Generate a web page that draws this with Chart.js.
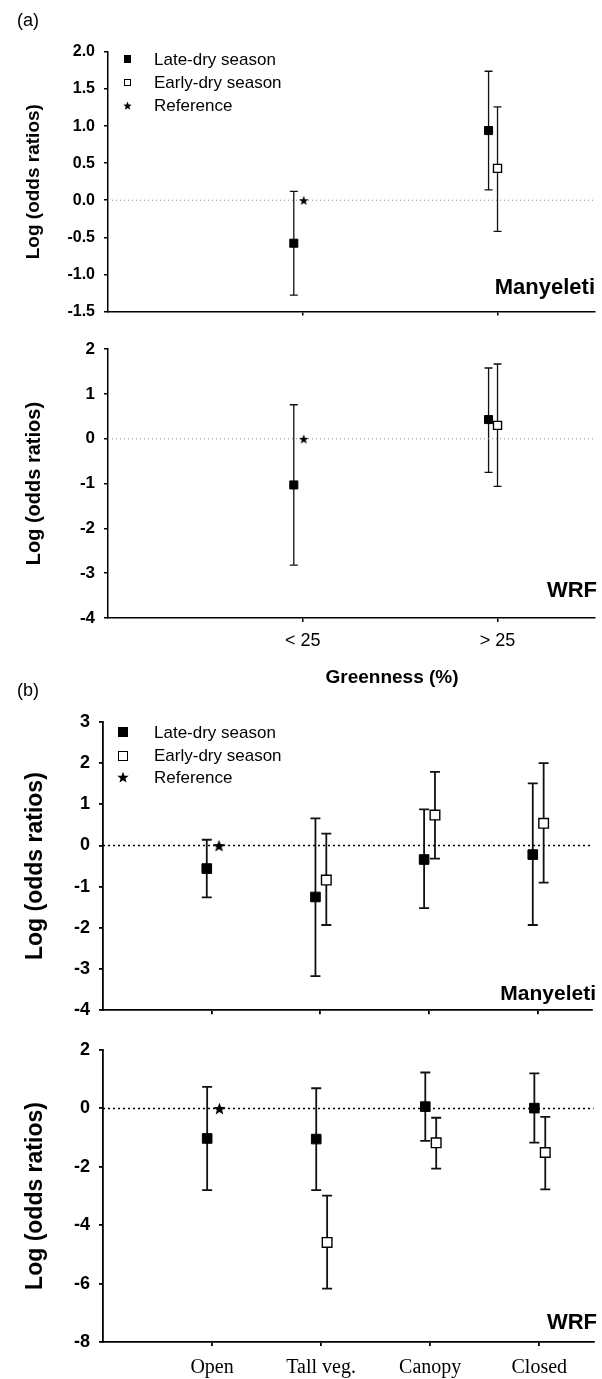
<!DOCTYPE html>
<html>
<head>
<meta charset="utf-8">
<script src="https://cdn.jsdelivr.net/npm/chart.js@4.4.1/dist/chart.umd.min.js"></script>
<style>
html,body{margin:0;padding:0;background:#fff;}
#wrap{position:relative;width:602px;height:1379px;overflow:hidden;font-family:'Liberation Sans',Arial,sans-serif;color:#000;}
canvas.chart{position:absolute;left:0;}
.t{position:absolute;white-space:nowrap;line-height:1;}
.mk{position:absolute;box-sizing:border-box;}
</style>
</head>
<body>
<div id="wrap">
<canvas id="cA1" class="chart" width="602" height="330" style="top:0px"></canvas>
<canvas id="cA2" class="chart" width="602" height="370" style="top:330px"></canvas>
<canvas id="cB1" class="chart" width="602" height="330" style="top:700px"></canvas>
<canvas id="cB2" class="chart" width="602" height="349" style="top:1030px"></canvas>
</div>
<script>
// ---------------- DATA ----------------
const greennessCategories = ['< 25', '> 25'];
const coverCategories = ['Open', 'Tall veg.', 'Canopy', 'Closed'];
const legendLabels = ['Late-dry season', 'Early-dry season', 'Reference'];
const referenceValue = 0;
const zeroLineValue = 0;

// (a) Greenness – Manyeleti
const aManLate   = [-0.58, 0.94];
const aManLateLo = [-1.28, 0.14];
const aManLateHi = [ 0.12, 1.74];
const aManEarly   = [null, 0.43];
const aManEarlyLo = [null, -0.42];
const aManEarlyHi = [null, 1.26];

// (a) Greenness – WRF
const aWrfLate   = [-1.03, 0.43];
const aWrfLateLo = [-2.82, -0.75];
const aWrfLateHi = [ 0.76, 1.58];
const aWrfEarly   = [null, 0.30];
const aWrfEarlyLo = [null, -1.06];
const aWrfEarlyHi = [null, 1.67];

// (b) Cover – Manyeleti
const bManLate   = [-0.56, -1.25, -0.34, -0.22];
const bManLateLo = [-1.26, -3.17, -1.52, -1.93];
const bManLateHi = [ 0.14,  0.66,  0.88,  1.51];
const bManEarly   = [null, -0.84, 0.74, 0.54];
const bManEarlyLo = [null, -1.93, -0.32, -0.90];
const bManEarlyHi = [null,  0.29,  1.79,  2.00];

// (b) Cover – WRF
const bWrfLate   = [-1.03, -1.05, 0.06, 0.01];
const bWrfLateLo = [-2.80, -2.80, -1.11, -1.17];
const bWrfLateHi = [ 0.74,  0.69,  1.23,  1.20];
const bWrfEarly   = [null, -4.59, -1.18, -1.51];
const bWrfEarlyLo = [null, -6.17, -2.06, -2.77];
const bWrfEarlyHi = [null, -2.99, -0.32, -0.29];

// ---------------- HELPERS ----------------
const SANS = "'Liberation Sans', Arial, sans-serif";
const SERIF = "'Liberation Serif', 'Times New Roman', serif";

function makeStar(size) {
  const c = document.createElement('canvas');
  c.width = size; c.height = size;
  const g = c.getContext('2d');
  const cx = size / 2, cy = size / 2 + size * 0.06, R = size / 2, r = R * 0.42;
  g.beginPath();
  for (let k = 0; k < 10; k++) {
    const a = -Math.PI / 2 + k * Math.PI / 5;
    const rad = k % 2 ? r : R;
    g.lineTo(cx + rad * Math.cos(a), cy + rad * Math.sin(a));
  }
  g.closePath();
  g.fillStyle = '#000';
  g.fill();
  return c;
}

function seriesPoints(values, lo, hi, offset) {
  const data = [], eLo = [], eHi = [];
  values.forEach((v, i) => {
    if (v === null) return;
    data.push({ x: i + 1 + offset, y: v });
    eLo.push(lo[i]); eHi.push(hi[i]);
  });
  return { data, eLo, eHi };
}

const errorBarPlugin = {
  id: 'errorBars',
  beforeDatasetsDraw(chart, args, opts) {
    const { ctx, scales: { x, y } } = chart;
    ctx.save();
    ctx.strokeStyle = opts.color || '#000';
    ctx.lineWidth = opts.width || 1.3;
    chart.data.datasets.forEach((ds) => {
      if (!ds.errLo) return;
      ds.data.forEach((p, i) => {
        const px = x.getPixelForValue(p.x);
        const pl = y.getPixelForValue(ds.errLo[i]);
        const ph = y.getPixelForValue(ds.errHi[i]);
        const c = opts.cap || 4;
        ctx.beginPath();
        ctx.moveTo(px, pl); ctx.lineTo(px, ph);
        ctx.moveTo(px - c, pl); ctx.lineTo(px + c, pl);
        ctx.moveTo(px - c, ph); ctx.lineTo(px + c, ph);
        ctx.stroke();
      });
    });
    ctx.restore();
  }
};

function makePanel(cfg) {
  const cats = cfg.categories;
  const xMax = cats.length + 0.5;
  const late = seriesPoints(cfg.late, cfg.lateLo, cfg.lateHi, cfg.lateOff);
  const early = seriesPoints(cfg.early, cfg.earlyLo, cfg.earlyHi, cfg.earlyOff);
  const datasets = [
    {
      label: legendLabels[0], data: late.data, errLo: late.eLo, errHi: late.eHi,
      pointStyle: 'rect', pointRadius: cfg.markR, backgroundColor: '#000',
      borderColor: '#000', borderWidth: 1, showLine: false, order: 0
    },
    {
      label: legendLabels[1], data: early.data, errLo: early.eLo, errHi: early.eHi,
      pointStyle: 'rect', pointRadius: cfg.markR, backgroundColor: '#fff',
      borderColor: '#000', borderWidth: 1.4, showLine: false, order: 0
    },
    {
      label: legendLabels[2], data: [{ x: 1 + cfg.starOff, y: referenceValue }],
      pointStyle: makeStar(cfg.starSize), pointRadius: cfg.starSize / 2,
      showLine: false, order: 0
    },
    {
      label: 'zero', type: 'line', data: [{ x: 0, y: zeroLineValue }, { x: xMax, y: zeroLineValue }],
      borderColor: cfg.zeroColor, borderWidth: cfg.zeroWidth, borderDash: cfg.zeroDash,
      pointRadius: 0, fill: false, order: 10
    }
  ];
  return new Chart(document.getElementById(cfg.id), {
    type: 'scatter',
    data: { datasets },
    plugins: [errorBarPlugin],
    options: {
      responsive: false, animation: false, devicePixelRatio: 1, events: [],
      layout: { padding: { left: 0, top: cfg.padTop, right: cfg.padRight, bottom: 0 } },
      plugins: {
        legend: { display: false }, tooltip: { enabled: false },
        errorBars: { cap: cfg.cap, width: cfg.errWidth, color: '#111' }
      },
      scales: {
        x: {
          type: 'linear', min: 0, max: xMax,
          afterBuildTicks: (s) => { s.ticks = cats.map((_, i) => ({ value: i + 1 })); },
          afterFit: (s) => { s.height = cfg.xAxisH; },
          border: { display: true, color: '#000', width: cfg.axisWidth },
          grid: { drawOnChartArea: false, drawTicks: true, tickLength: 4, color: '#000', lineWidth: cfg.axisWidth },
          ticks: {
            display: cfg.showXLabels, autoSkip: false, maxRotation: 0, padding: cfg.xPad,
            color: '#000', font: cfg.xFont,
            callback: (v) => cats[Math.round(v) - 1] ?? ''
          }
        },
        y: {
          min: cfg.yMin, max: cfg.yMax,
          afterFit: (s) => { s.width = cfg.yAxisW; },
          border: { display: true, color: '#000', width: cfg.axisWidth },
          grid: { drawOnChartArea: false, drawTicks: true, tickLength: 4, color: '#000', lineWidth: cfg.axisWidth },
          ticks: {
            stepSize: cfg.yStep, padding: 9, color: '#000',
            font: { family: SANS, size: cfg.yTickSize, weight: 'bold' },
            callback: (v) => cfg.decimals ? Number(v).toFixed(cfg.decimals) : String(v)
          },
          title: {
            display: true, text: 'Log (odds ratios)', color: '#000',
            font: { family: SANS, size: cfg.titleSize, weight: 'bold' },
            padding: { top: cfg.titlePad, bottom: 0 }
          }
        }
      }
    }
  });
}

// ---------------- PANELS ----------------
const styleA = {
  yAxisW: 108, padRight: 5, markR: 5.7, starSize: 10, cap: 4, errWidth: 1.3, axisWidth: 1.5,
  zeroColor: '#8a8a8a', zeroWidth: 1, zeroDash: [1, 3], lateOff: -0.046, earlyOff: 0, starOff: 0.005,
  titleSize: 19, titlePad: 22
};
const styleB = {
  yAxisW: 103, markR: 6.8, starSize: 13, cap: 5, errWidth: 1.8, axisWidth: 1.8,
  zeroColor: '#000', zeroWidth: 1.5, zeroDash: [2, 3], lateOff: -0.045, earlyOff: 0.055, starOff: 0.068,
  titleSize: 23, titlePad: 22
};

makePanel(Object.assign({}, styleA, {
  id: 'cA1', categories: greennessCategories,
  late: aManLate, lateLo: aManLateLo, lateHi: aManLateHi,
  early: aManEarly, earlyLo: aManEarlyLo, earlyHi: aManEarlyHi,
  yMin: -1.5, yMax: 2, yStep: 0.5, decimals: 1, yTickSize: 16,
  padTop: 52, xAxisH: 13, showXLabels: false, xPad: 0, xFont: { family: SANS, size: 18 }
}));
makePanel(Object.assign({}, styleA, {
  id: 'cA2', categories: greennessCategories,
  late: aWrfLate, lateLo: aWrfLateLo, lateHi: aWrfLateHi,
  early: aWrfEarly, earlyLo: aWrfEarlyLo, earlyHi: aWrfEarlyHi,
  yMin: -4, yMax: 2, yStep: 1, decimals: 0, yTickSize: 17, titleSize: 20,
  padTop: 18, xAxisH: 82, showXLabels: true, xPad: 8, xFont: { family: SANS, size: 18 }
}));
makePanel(Object.assign({}, styleB, {
  id: 'cB1', categories: coverCategories, padRight: 10,
  late: bManLate, lateLo: bManLateLo, lateHi: bManLateHi,
  early: bManEarly, earlyLo: bManEarlyLo, earlyHi: bManEarlyHi,
  yMin: -4, yMax: 3, yStep: 1, decimals: 0, yTickSize: 18,
  padTop: 22, xAxisH: 17, showXLabels: false, xPad: 0, xFont: { family: SERIF, size: 20 }
}));
makePanel(Object.assign({}, styleB, {
  id: 'cB2', categories: coverCategories, padRight: 7,
  late: bWrfLate, lateLo: bWrfLateLo, lateHi: bWrfLateHi,
  early: bWrfEarly, earlyLo: bWrfEarlyLo, earlyHi: bWrfEarlyHi,
  yMin: -8, yMax: 2, yStep: 2, decimals: 0, yTickSize: 18,
  padTop: 20, xAxisH: 37, showXLabels: true, xPad: 10, xFont: { family: SERIF, size: 20 }
}));

// ---------------- TEXT & LEGENDS ----------------
const wrap = document.getElementById('wrap');
function addText(txt, css) {
  const d = document.createElement('div');
  d.className = 't';
  d.textContent = txt;
  Object.assign(d.style, css);
  wrap.appendChild(d);
  return d;
}
addText('(a)', { left: '17px', top: '11px', fontSize: '18px' });
addText('(b)', { left: '17px', top: '681px', fontSize: '18px' });
addText('Greenness (%)', { left: '392px', top: '667px', fontSize: '19px', fontWeight: 'bold', transform: 'translateX(-50%)' });
addText('Manyeleti', { right: '7px', top: '276px', fontSize: '22px', fontWeight: 'bold' });
addText('WRF', { right: '5px', top: '579px', fontSize: '22px', fontWeight: 'bold' });
addText('Manyeleti', { right: '6px', top: '982px', fontSize: '21px', fontWeight: 'bold' });
addText('WRF', { right: '5px', top: '1311px', fontSize: '22px', fontWeight: 'bold' });

function addLegend(markX, textX, rows, size, starSize) {
  // filled square
  const m1 = document.createElement('div'); m1.className = 'mk';
  Object.assign(m1.style, { left: (markX - size / 2) + 'px', top: (rows[0] - size / 2) + 'px', width: size + 'px', height: size + 'px', background: '#000' });
  wrap.appendChild(m1);
  const m2 = document.createElement('div'); m2.className = 'mk';
  Object.assign(m2.style, { left: (markX - size / 2) + 'px', top: (rows[1] - size / 2) + 'px', width: size + 'px', height: size + 'px', background: '#fff', border: '1.3px solid #000' });
  wrap.appendChild(m2);
  const st = makeStar(starSize); st.className = 'mk';
  Object.assign(st.style, { left: (markX - starSize / 2) + 'px', top: (rows[2] - starSize / 2) + 'px' });
  wrap.appendChild(st);
  legendLabels.forEach((lab, i) => {
    addText(lab, { left: textX + 'px', top: (rows[i] - 8.3) + 'px', fontSize: '17px' });
  });
}
addLegend(127.5, 154, [59, 82.5, 105.5], 7.5, 9);
addLegend(123, 154, [732, 755.5, 777], 10, 12);
</script>
</body>
</html>
